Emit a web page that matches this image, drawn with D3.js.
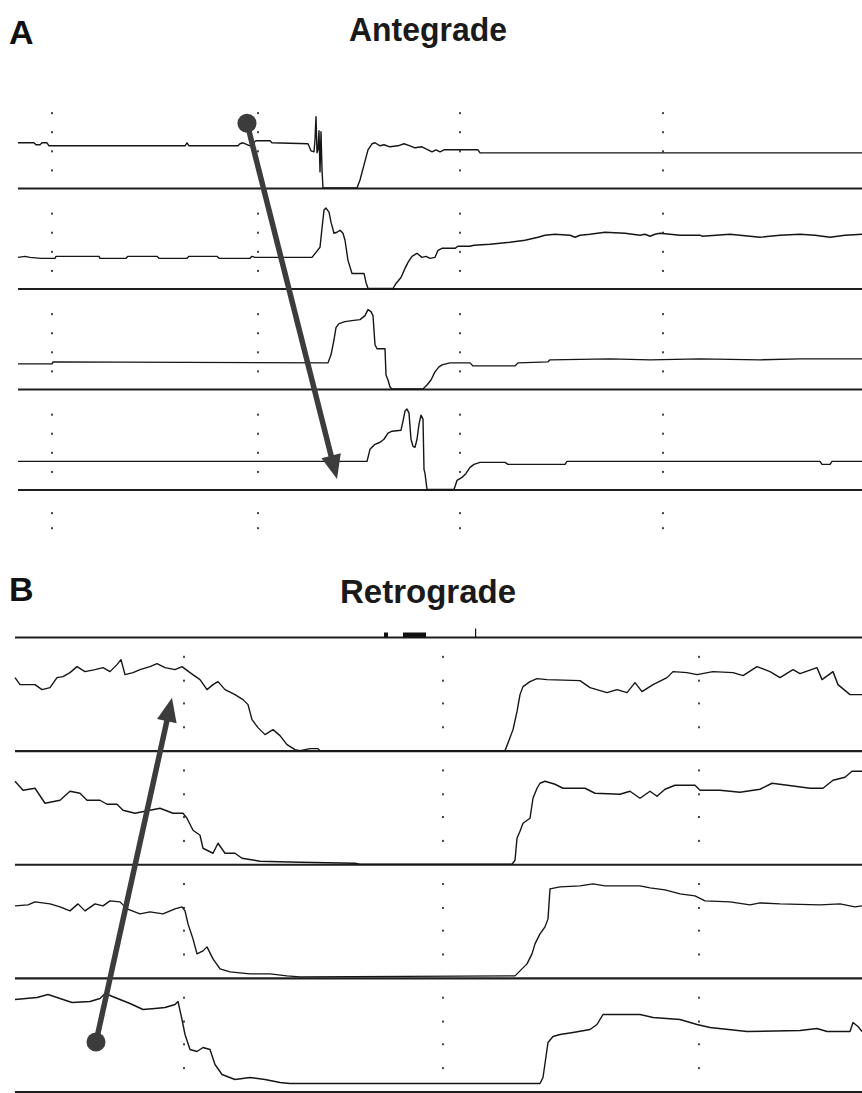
<!DOCTYPE html>
<html>
<head>
<meta charset="utf-8">
<script src="https://cdn.jsdelivr.net/npm/d3@7"></script>
<style>
  body { margin: 0; background: #fff; }
  svg { display: block; font-family: "Liberation Sans", Arial, sans-serif; }
</style>
</head>
<body>
<div id="chart"></div>
<script>
// ---- data ----
// traces are [sample, amplitude above the channel baseline]
const panelLetters = ["A", "B"];
const panelTitles = ["Antegrade", "Retrograde"];

const antegrade1 = [[0,45],[16,45],[18,43],[22,43],[24,45],[29,45],[31,42],[167,42],[169,45],[171,42],[220,42],[222,44],[225,45],[232,42],[238,47],[252,47],[254,45],[290,44],[293,37],[296,36],[297,48],[298,71],[299,35],[300,38],[301,57],[302,16],[303,56],[304,18],[305,0],[339,0],[342,8],[346,23],[350,38],[354,44],[357,45],[362,42],[366,43],[372,41],[380,42],[386,44],[392,42],[397,40],[404,41],[410,38],[414,36],[418,38],[422,36],[426,38],[460,38],[462,35],[844,35]];
const antegrade2 = [[0,31],[7,32],[12,31],[23,30],[37,30],[38,32],[81,32],[82,30],[108,30],[110,32],[139,32],[141,30],[169,30],[171,32],[199,32],[201,30],[232,30],[234,32],[237,31],[294,31],[298,36],[302,41],[304,60],[306,78],[308,80],[311,76],[313,66],[316,55],[319,56],[322,58],[325,55],[327,48],[330,28],[334,15],[346,15],[348,6],[350,0],[375,0],[378,5],[383,11],[387,20],[390,26],[394,32],[399,35],[404,31],[408,32],[412,30],[417,31],[420,38],[424,40],[437,40],[440,42],[452,42],[456,43],[472,44],[492,46],[507,48],[520,51],[527,53],[537,54],[552,53],[557,51],[562,53],[572,54],[587,56],[607,55],[622,53],[627,54],[632,52],[637,54],[642,55],[652,54],[662,53],[682,53],[684,52],[712,54],[742,51],[762,53],[782,54],[797,53],[812,51],[827,53],[844,54]];
const antegrade3 = [[0,25],[34,25],[35,27],[310,26],[313,34],[316,49],[318,61],[321,65],[327,67],[334,68],[342,69],[347,73],[350,79],[353,77],[355,73],[357,44],[359,40],[367,40],[368,14],[370,9],[372,2],[374,0],[405,0],[409,4],[413,9],[417,17],[421,22],[424,24],[432,26],[452,26],[455,23],[497,23],[500,26],[530,27],[532,29],[592,30],[632,29],[682,30],[742,29],[782,30],[844,30]];
const antegrade4 = [[0,28],[349,28],[352,40],[357,45],[362,47],[366,50],[370,56],[374,58],[383,59],[385,68],[387,78],[389,80],[391,76],[393,50],[395,43],[397,42],[399,50],[401,65],[403,74],[405,70],[406,20],[407,16],[409,0],[436,0],[439,9],[444,12],[448,16],[452,22],[456,25],[462,27],[487,27],[490,25],[547,25],[549,28],[802,28],[804,25],[812,25],[814,28],[844,28]];

const retrograde1 = [[0,73],[5,66],[20,66],[27,61],[35,63],[42,73],[48,74],[55,78],[62,84],[70,79],[80,81],[88,83],[95,79],[102,86],[106,91],[110,76],[118,78],[125,81],[135,84],[142,87],[150,83],[160,81],[167,84],[175,78],[185,71],[192,61],[198,66],[203,69],[210,61],[220,56],[228,51],[233,46],[237,31],[243,23],[250,16],[258,21],[265,15],[272,6],[280,1],[285,0],[295,2],[303,2],[305,0],[490,0],[492,5],[498,21],[502,39],[505,56],[508,64],[515,69],[522,72],[532,71],[565,70],[575,63],[592,58],[602,61],[612,58],[620,68],[627,59],[638,66],[652,73],[658,79],[672,78],[682,76],[698,79],[718,78],[728,75],[742,84],[755,79],[765,73],[778,81],[785,77],[802,83],[807,71],[818,79],[823,66],[835,56],[847,56]];
const retrograde2 = [[0,83],[8,74],[20,76],[30,61],[45,64],[55,73],[65,71],[72,64],[85,64],[92,60],[102,60],[108,54],[120,51],[135,54],[145,56],[158,51],[168,51],[172,46],[178,34],[185,29],[188,16],[198,11],[203,21],[210,11],[220,11],[227,6],[245,3],[285,2],[340,1],[345,0],[497,0],[500,4],[502,26],[505,33],[508,41],[515,46],[518,66],[522,76],[525,81],[530,83],[540,80],[548,76],[570,76],[580,71],[605,70],[615,73],[625,66],[635,73],[642,68],[650,75],[660,79],[680,79],[685,74],[705,74],[725,72],[745,75],[757,81],[780,78],[795,76],[808,76],[818,84],[830,87],[837,93],[847,93]];
const retrograde3 = [[0,72],[13,73],[20,76],[35,74],[45,71],[55,67],[63,74],[70,67],[80,74],[88,72],[95,77],[105,76],[112,69],[125,64],[135,66],[148,64],[160,69],[167,71],[170,67],[173,54],[178,39],[182,24],[188,27],[192,31],[198,19],[205,9],[215,6],[235,4],[255,4],[272,2],[285,1],[500,2],[505,7],[512,14],[517,24],[520,34],[525,44],[530,51],[533,59],[535,89],[545,91],[565,92],[578,94],[590,92],[625,92],[635,90],[650,88],[665,84],[680,82],[690,77],[715,76],[735,73],[745,75],[765,74],[805,73],[825,74],[840,71],[847,72]];
const retrograde4 = [[0,92],[22,94],[33,97],[45,93],[57,89],[75,90],[85,93],[91,99],[95,96],[105,92],[115,88],[128,82],[140,83],[150,84],[160,87],[163,90],[167,72],[170,57],[175,42],[182,40],[188,44],[195,42],[200,27],[207,17],[220,12],[235,14],[250,12],[265,9],[275,8],[525,8],[528,14],[533,49],[538,55],[545,57],[558,59],[575,62],[582,67],[588,77],[625,77],[638,74],[665,72],[682,67],[695,64],[732,60],[785,61],[802,63],[812,60],[835,60],[838,69],[843,65],[847,60]];

// dotted marker columns (sample) and their row fractions
const antegradeGrid = [34, 240, 442, 645];
const retrogradeGrid = [169, 428, 684];
const antegradeDotRows = [0.25, 0.44, 0.63, 0.82];
const retrogradeDotRows = [0.17, 0.38, 0.58, 0.79];

// arrows: [sample, channel position] for tail (dot) and head
const antegradeArrow = [[229, 0.35], [319, 3.89]];
const retrogradeArrow = [[81, 3.56], [157, 0.53]];

// small marks sitting on the top line of panel B: [from, to, height]
const retroTopMarks = [[369, 373, 5], [388, 411, 5], [460, 461.2, 9]];

// ---- layout ----
const svgWidth = 862;
const svgHeight = 1093;

const svg = d3.select("#chart")
  .append("svg")
  .attr("width", svgWidth)
  .attr("height", svgHeight);

svg.append("rect").attr("width", svgWidth).attr("height", svgHeight).attr("fill", "#fff");

const panels = [
  {
    letter: panelLetters[0], title: panelTitles[0], letterY: 44, titleY: 41, titleW: 158,
    traces: [antegrade1, antegrade2, antegrade3, antegrade4],
    x: d3.scaleLinear().domain([0, 844]).range([18, 862]),
    track: d3.scaleLinear().domain([0, 4]).range([88, 490]),
    amp: d3.scaleLinear().domain([0, 100]).range([0, 100.5]),
    firstLine: 1, grid: antegradeGrid, dotRows: antegradeDotRows,
    extraDots: [4.23, 4.38], arrow: antegradeArrow
  },
  {
    letter: panelLetters[1], title: panelTitles[1], letterY: 601, titleY: 603, titleW: 176,
    traces: [retrograde1, retrograde2, retrograde3, retrograde4],
    x: d3.scaleLinear().domain([0, 847]).range([15, 862]),
    track: d3.scaleLinear().domain([0, 4]).range([637.5, 1092]),
    amp: d3.scaleLinear().domain([0, 113.6]).range([0, 113.6]),
    firstLine: 0, grid: retrogradeGrid, dotRows: retrogradeDotRows,
    extraDots: [], arrow: retrogradeArrow
  }
];

const arrowColor = "#3c3c3c";

panels.forEach(function(p, pi) {
  const g = svg.append("g");

  // panel letter and title
  g.append("text")
    .attr("x", 9)
    .attr("y", p.letterY)
    .attr("font-size", 34)
    .attr("font-weight", "bold")
    .attr("fill", "#111")
    .text(p.letter);

  g.append("text")
    .attr("x", 428)
    .attr("y", p.titleY)
    .attr("text-anchor", "middle")
    .attr("font-size", 33)
    .attr("font-weight", "bold")
    .attr("fill", "#1a1a1a")
    .attr("textLength", p.titleW)
    .attr("lengthAdjust", "spacingAndGlyphs")
    .text(p.title);

  // dotted marker columns
  const dotYs = [];
  d3.range(4).forEach(k => p.dotRows.forEach(f => dotYs.push(k + f)));
  p.extraDots.forEach(f => dotYs.push(f));
  const dots = [];
  p.grid.forEach(s => dotYs.forEach(t => dots.push([s, t])));
  g.selectAll(".dot")
    .data(dots)
    .enter()
    .append("rect")
    .attr("x", d => p.x(d[0]) - 1)
    .attr("y", d => p.track(d[1]) - 1)
    .attr("width", 2)
    .attr("height", 2)
    .attr("fill", "#444");

  // channel baselines
  g.selectAll(".base")
    .data(d3.range(p.firstLine, 5))
    .enter()
    .append("line")
    .attr("x1", p.x.range()[0])
    .attr("x2", p.x.range()[1])
    .attr("y1", d => p.track(d))
    .attr("y2", d => p.track(d))
    .attr("stroke", "#1e1e1e")
    .attr("stroke-width", 2.2);

  // traces
  p.traces.forEach(function(tr, ci) {
    const base = p.track(ci + 1);
    const line = d3.line()
      .x(d => p.x(d[0]))
      .y(d => base - p.amp(d[1]) - 0.5);
    g.append("path")
      .attr("d", line(tr))
      .attr("fill", "none")
      .attr("stroke", "#151515")
      .attr("stroke-width", 1.4)
      .attr("stroke-linejoin", "round");
  });

  // marks on the top line (panel B only)
  if (pi === 1) {
    g.selectAll(".topmark")
      .data(retroTopMarks)
      .enter()
      .append("rect")
      .attr("x", d => p.x(d[0]))
      .attr("width", d => p.x(d[1]) - p.x(d[0]))
      .attr("y", d => p.track(0) - p.amp(d[2]))
      .attr("height", d => p.amp(d[2]))
      .attr("fill", "#111");
  }

  // arrow from dot to head
  const tail = [p.x(p.arrow[0][0]), p.track(p.arrow[0][1])];
  const tip = [p.x(p.arrow[1][0]), p.track(p.arrow[1][1])];
  const dx = tip[0] - tail[0], dy = tip[1] - tail[1];
  const len = Math.sqrt(dx * dx + dy * dy);
  const ux = dx / len, uy = dy / len;
  const headLen = 24, headHalf = 10;
  const neck = [tip[0] - ux * headLen, tip[1] - uy * headLen];

  g.append("line")
    .attr("x1", tail[0]).attr("y1", tail[1])
    .attr("x2", neck[0] + ux * 4).attr("y2", neck[1] + uy * 4)
    .attr("stroke", arrowColor)
    .attr("stroke-width", 5.5);

  g.append("polygon")
    .attr("points", [
      tip,
      [neck[0] - uy * headHalf, neck[1] + ux * headHalf],
      [neck[0] + uy * headHalf, neck[1] - ux * headHalf]
    ].map(q => q.join(",")).join(" "))
    .attr("fill", arrowColor);

  g.append("circle")
    .attr("cx", tail[0])
    .attr("cy", tail[1])
    .attr("r", 9.5)
    .attr("fill", arrowColor);
});
</script>
</body>
</html>
